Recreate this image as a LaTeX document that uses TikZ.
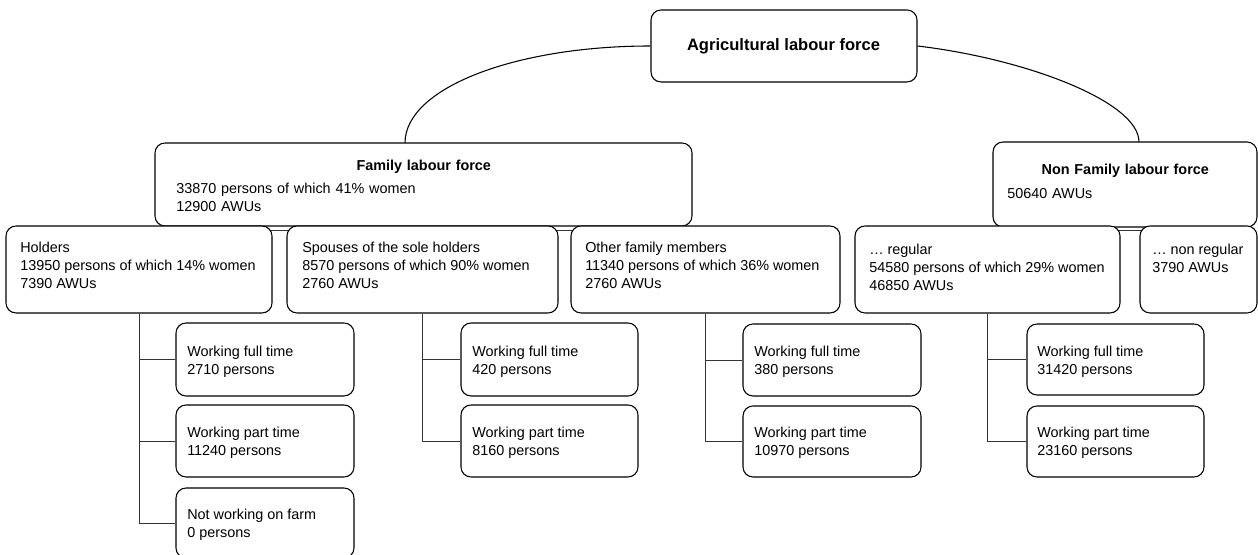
\documentclass[tikz,border=0pt]{standalone}
\usepackage{fontspec}
\setmainfont{Liberation Sans}
\usetikzlibrary{fit,backgrounds}
\begin{document}
\begin{tikzpicture}[x=0.75pt,y=-0.75pt,
  box/.style={draw=black, line width=0.8pt, rounded corners=7.5pt, fill=white, inner sep=0pt},
  txt/.style={anchor=north west, inner sep=0pt, align=left, font=\fontsize{10.8}{13.5}\selectfont},
  link/.style={draw=black!80, line width=0.6pt},
  arcline/.style={draw=black, line width=0.8pt}]
\clip (0,0) rectangle (1258,555);
% top
\node[box, fit={(651,10) (917,82)}] (agri) {};
\node[inner sep=0pt, font=\fontsize{12.4}{15}\selectfont\bfseries] (agri-t) at (783.5,46) {Agricultural labour force};
% family
\node[box, fit={(155,143) (692,226)}] (fam) {};
\node[txt, text width=371.25pt] (fam-t) at (176,157.6) {\makebox[371.25pt]{\strut\textbf{Family labour force}}\\[3.75pt]33870 persons of which 41\% women\\12900 AWUs};
% non family
\node[box, fit={(993,142) (1257,227)}] (nonfam) {};
\node[txt, text width=177pt] (nonfam-t) at (1007,161.6) {\makebox[177pt]{\strut\textbf{Non Family labour force}}\\[4.3pt]50640 AWUs};
% second level
\node[box, fit={(6,226) (272,313)}] (hold) {};
\node[txt] (hold-t) at (20,239.6) {\strut Holders\\13950 persons of which 14\% women\\7390 AWUs};
\node[box, fit={(287,226) (558,313)}] (spou) {};
\node[txt] (spou-t) at (302,239.6) {\strut Spouses of the sole holders\\8570 persons of which 90\% women\\2760 AWUs};
\node[box, fit={(571,226) (840,313)}] (oth) {};
\node[txt] (oth-t) at (585,239.6) {\strut Other family members\\11340 persons of which 36\% women\\2760 AWUs};
\node[box, fit={(855,226) (1120,313)}] (reg) {};
\node[txt] (reg-t) at (869,241.6) {\strut … regular\\54580 persons of which 29\% women\\46850 AWUs};
\node[box, fit={(1140,226) (1257,313)}] (nreg) {};
\node[txt] (nreg-t) at (1152,241.6) {\strut … non regular\\3790 AWUs};
% third level: holders
\node[box, fit={(176,323) (354,396)}] (h1) {};
\node[txt] (h1-t) at (187,343.3) {\strut Working full time\\2710 persons};
\node[box, fit={(176,405) (354,477)}] (h2) {};
\node[txt] (h2-t) at (187,424.3) {\strut Working part time\\11240 persons};
\node[box, fit={(176,488) (354,558)}] (h3) {};
\node[txt] (h3-t) at (187,506.6) {\strut Not working on farm\\0 persons};
% spouses
\node[box, fit={(461,323) (638,396)}] (s1) {};
\node[txt] (s1-t) at (472,343.3) {\strut Working full time\\420 persons};
\node[box, fit={(461,405) (638,477)}] (s2) {};
\node[txt] (s2-t) at (472,424.3) {\strut Working part time\\8160 persons};
% other
\node[box, fit={(743,324) (921,396)}] (o1) {};
\node[txt] (o1-t) at (754,343.3) {\strut Working full time\\380 persons};
\node[box, fit={(743,406) (921,477)}] (o2) {};
\node[txt] (o2-t) at (754,424.3) {\strut Working part time\\10970 persons};
% regular
\node[box, fit={(1027,324) (1204,395)}] (r1) {};
\node[txt] (r1-t) at (1037,343.3) {\strut Working full time\\31420 persons};
\node[box, fit={(1027,406) (1204,477)}] (r2) {};
\node[txt] (r2-t) at (1037,424.3) {\strut Working part time\\23160 persons};
% join points
\coordinate (famjoin) at (405,143);
\coordinate (nonfamjoin) at (1139,142);
\begin{scope}[on background layer]
  \draw[arcline] (agri.west) .. controls (515,46) and (405,88) .. (famjoin);
  \draw[arcline] (agri.east) .. controls (1027,59) and (1139,102) .. (nonfamjoin);
  \draw[link] (hold.north |- 0,230) -- (oth.north |- 0,230);
  \draw[link] (reg.north |- 0,230) -- (nreg.north |- 0,230);
  \draw[link] (hold.south) |- (h3.west);
  \draw[link] (hold.south |- h1.west) -- (h1.west);
  \draw[link] (hold.south |- h2.west) -- (h2.west);
  \draw[link] (spou.south) |- (s2.west);
  \draw[link] (spou.south |- s1.west) -- (s1.west);
  \draw[link] (oth.south) |- (o2.west);
  \draw[link] (oth.south |- o1.west) -- (o1.west);
  \draw[link] (reg.south) |- (r2.west);
  \draw[link] (reg.south |- r1.west) -- (r1.west);
\end{scope}
\end{tikzpicture}
\end{document}
